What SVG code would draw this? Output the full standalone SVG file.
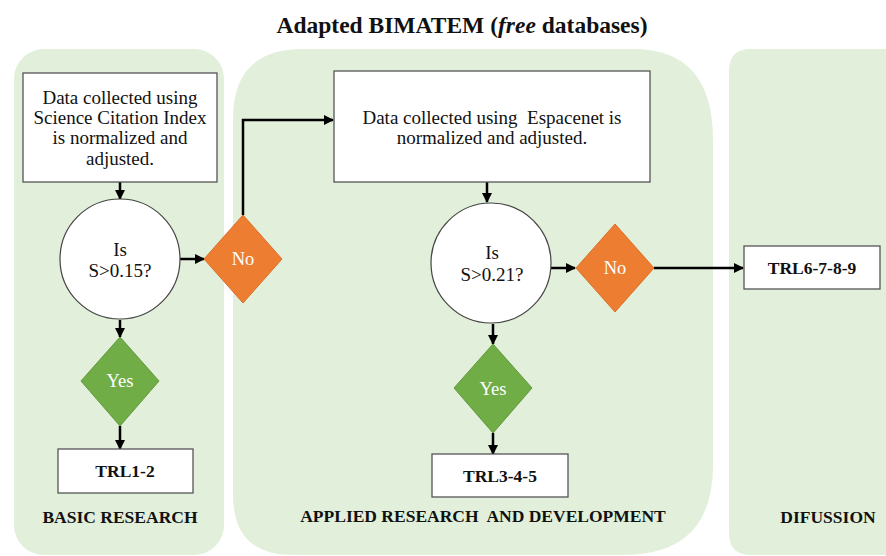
<svg xmlns="http://www.w3.org/2000/svg" width="886" height="556" viewBox="0 0 886 556">
<defs>
<marker id="ah" viewBox="0 0 10 10" refX="9" refY="5" markerWidth="4" markerHeight="4" orient="auto" markerUnits="strokeWidth">
<path d="M0,0 L10,5 L0,10 z" fill="#000"/>
</marker>
<style>
.panel{fill:#e2efda;}
.box{fill:#fff;stroke:#555;stroke-width:1.3;}
.circ{fill:#fff;stroke:#444;stroke-width:1.2;}
.no{fill:#ed7d31;stroke:#d9702a;stroke-width:1;}
.yes{fill:#70ad47;stroke:#62993d;stroke-width:1;}
.t{font-family:"Liberation Serif","Times New Roman",serif;font-size:19px;fill:#111;text-anchor:middle;white-space:pre;}
.b{font-family:"Liberation Serif","Times New Roman",serif;font-size:17.5px;font-weight:bold;fill:#111;text-anchor:middle;white-space:pre;}
.w{font-family:"Liberation Serif","Times New Roman",serif;font-size:18.5px;fill:#fff;text-anchor:middle;}
.c{fill:none;stroke:#000;stroke-width:2.5;marker-end:url(#ah);}
</style>
</defs>
<rect width="886" height="556" fill="#fff"/>
<text x="462" y="33" font-family="Liberation Serif, Times New Roman, serif" font-size="23.5" font-weight="bold" fill="#111" text-anchor="middle">Adapted BIMATEM (<tspan font-style="italic">free</tspan> databases)</text>
<g id="panel-basic">
<rect class="panel" x="14" y="49" width="210" height="506" rx="30" ry="30"/>
<text class="b" x="120" y="523">BASIC RESEARCH</text>
</g>
<g id="panel-applied">
<path class="panel" d="M303,49 L633,49 Q713,49 713,140 L713,465 Q713,555 623,555 L293,555 Q233,555 233,495 L233,119 Q233,49 303,49 Z"/>
<text class="b" x="483" y="522" font-size="17.2">APPLIED RESEARCH  AND DEVELOPMENT</text>
</g>
<g id="panel-diffusion">
<path class="panel" d="M751,49 L886,49 L886,555 L751,555 Q729,555 729,533 L729,71 Q729,49 751,49 Z"/>
<text class="b" x="828" y="523">DIFUSSION</text>
</g>
<g id="connectors">
<line class="c" x1="120" y1="182" x2="120" y2="199"/>
<line class="c" x1="180" y1="259" x2="204" y2="259"/>
<polyline class="c" points="243,215 243,120 333,120"/>
<line class="c" x1="487" y1="182" x2="487" y2="202"/>
<line class="c" x1="551" y1="268" x2="575" y2="268"/>
<line class="c" x1="654" y1="268" x2="743" y2="268"/>
<line class="c" x1="120" y1="320" x2="120" y2="337"/>
<line class="c" x1="120" y1="426" x2="120" y2="449"/>
<line class="c" x1="493" y1="324" x2="493" y2="344"/>
<line class="c" x1="493" y1="433" x2="493" y2="454"/>
</g>
<g id="box-sci">
<rect class="box" x="23" y="73" width="194" height="109"/>
<text class="t" x="120" y="104">Data collected using</text>
<text class="t" x="120" y="124">Science Citation Index</text>
<text class="t" x="120" y="144">is normalized and</text>
<text class="t" x="120" y="165">adjusted.</text>
</g>
<g id="dec-1">
<circle class="circ" cx="120" cy="259" r="60"/>
<text class="t" x="120" y="256">Is</text>
<text class="t" x="120" y="277">S&gt;0.15?</text>
</g>
<g id="no-1">
<polygon class="no" points="243,215 282,259 243,303 204,259"/>
<text class="w" x="243" y="265">No</text>
</g>
<g id="yes-1">
<polygon class="yes" points="120,337 159,381 120,426 81,381"/>
<text class="w" x="120" y="387">Yes</text>
</g>
<g id="trl12">
<rect class="box" x="58" y="449" width="135" height="44"/>
<text class="b" x="125" y="477">TRL1-2</text>
</g>
<g id="box-esp">
<rect class="box" x="334" y="71" width="316" height="111"/>
<text class="t" x="492" y="124">Data collected using  Espacenet is</text>
<text class="t" x="492" y="144">normalized and adjusted.</text>
</g>
<g id="dec-2">
<circle class="circ" cx="491" cy="263" r="60"/>
<text class="t" x="492" y="259">Is</text>
<text class="t" x="492" y="281">S&gt;0.21?</text>
</g>
<g id="no-2">
<polygon class="no" points="615,224 654,268 615,312 576,268"/>
<text class="w" x="615" y="274">No</text>
</g>
<g id="yes-2">
<polygon class="yes" points="493,344 532,388 493,433 454,388"/>
<text class="w" x="493" y="395">Yes</text>
</g>
<g id="trl345">
<rect class="box" x="432" y="454" width="136" height="43"/>
<text class="b" x="500" y="482">TRL3-4-5</text>
</g>
<g id="trl6789">
<rect class="box" x="744" y="246" width="136" height="43"/>
<text class="b" x="812" y="274">TRL6-7-8-9</text>
</g>
</svg>
